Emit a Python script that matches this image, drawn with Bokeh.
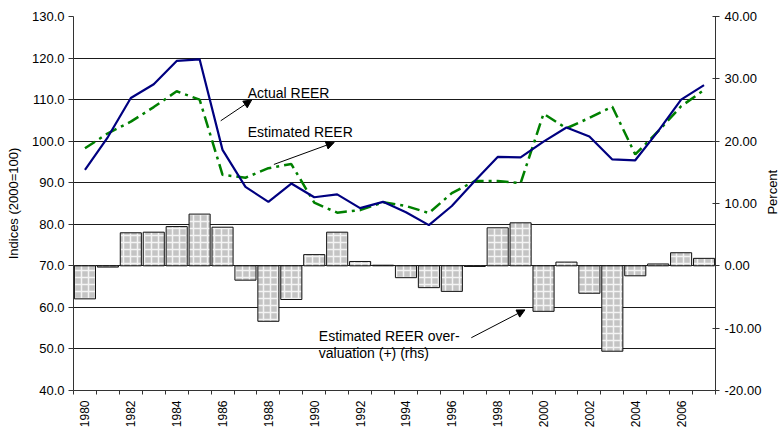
import math
from bokeh.plotting import figure
from bokeh.layouts import row
from bokeh.models import (Range1d, LinearAxis, FixedTicker, NumeralTickFormatter,
                          Label, Arrow, NormalHead, ColumnDataSource)
from bokeh.embed import file_html
from bokeh.resources import INLINE

# ---------------- data ----------------
years = [1980, 1981, 1982, 1983, 1984, 1985, 1986, 1987, 1988, 1989,
         1990, 1991, 1992, 1993, 1994, 1995, 1996, 1997, 1998, 1999,
         2000, 2001, 2002, 2003, 2004, 2005, 2006, 2007]
actual_reer = [93.1, 101.0, 110.4, 113.7, 119.3, 119.7, 97.9, 89.0, 85.4, 89.8,
               86.5, 87.2, 83.9, 85.4, 82.9, 79.8, 84.4, 90.4, 96.2, 96.1,
               99.9, 103.3, 101.1, 95.6, 95.4, 102.4, 110.0, 113.5]
estimated_reer = [98.3, 101.9, 104.7, 108.2, 112.0, 110.0, 91.9, 91.2, 93.5, 94.5,
                  85.2, 82.8, 83.4, 85.3, 84.4, 82.7, 87.5, 90.4, 90.4, 89.9,
                  106.6, 103.1, 105.6, 108.3, 96.8, 102.4, 108.4, 112.3]
overvaluation = [-5.3, -0.2, 5.3, 5.4, 6.3, 8.3, 6.2, -2.3, -8.9, -5.4,
                 1.8, 5.4, 0.7, 0.1, -1.9, -3.5, -4.1, -0.1, 6.1, 6.9,
                 -7.3, 0.6, -4.4, -13.7, -1.6, 0.3, 2.1, 1.2]
label_years = [1980, 1982, 1984, 1986, 1988, 1990, 1992, 1994, 1996, 1998,
               2000, 2002, 2004, 2006]
category_edges = [y - 0.5 for y in years] + [years[-1] + 0.5]
left_ticks = [40, 50, 60, 70, 80, 90, 100, 110, 120, 130]
right_ticks = [-20, -10, 0, 10, 20, 30, 40]

FONT = "Liberation Sans"

src = ColumnDataSource(dict(year=years, actual=actual_reer,
                            est=estimated_reer, gap=overvaluation))

p = figure(width=764, height=430, output_backend="svg", toolbar_location=None,
           x_range=Range1d(1979.5, 2007.5), y_range=Range1d(40, 130),
           min_border_left=73, min_border_right=46, min_border_top=16,
           min_border_bottom=39)
p.outline_line_color = None
p.background_fill_color = "white"
p.border_fill_color = "white"
p.extra_y_ranges = {"pct": Range1d(-20, 40)}

# grid
p.xgrid.visible = False
p.ygrid.ticker = FixedTicker(ticks=left_ticks)
p.ygrid.grid_line_color = "#1a1a1a"
p.ygrid.grid_line_width = 1

# x axis
xa = p.xaxis[0]
xa.ticker = FixedTicker(ticks=label_years, minor_ticks=category_edges)
xa.formatter = NumeralTickFormatter(format="0")
xa.major_tick_line_color = None
xa.major_tick_out = 0
xa.major_tick_in = 0
xa.minor_tick_out = 4
xa.minor_tick_in = 0
xa.minor_tick_line_color = "#333333"
xa.axis_line_color = "#333333"
xa.major_label_orientation = math.pi / 2
xa.major_label_standoff = 6
xa.major_label_text_font = FONT
xa.major_label_text_font_size = "12px"
xa.major_label_text_color = "black"

# left axis
ya = p.yaxis[0]
ya.ticker = FixedTicker(ticks=left_ticks)
ya.formatter = NumeralTickFormatter(format="0.0")
ya.minor_tick_line_color = None
ya.major_tick_out = 5
ya.major_tick_in = 0
ya.major_tick_line_color = "#333333"
ya.axis_line_color = "#333333"
ya.major_label_standoff = 4
ya.major_label_text_font = FONT
ya.major_label_text_font_size = "13px"
ya.major_label_text_color = "black"
ya.axis_label = "Indices (2000=100)"
ya.axis_label_text_font = FONT
ya.axis_label_text_font_size = "13px"
ya.axis_label_text_font_style = "normal"
ya.axis_label_text_color = "black"
ya.axis_label_standoff = 8

# right axis
ra = LinearAxis(y_range_name="pct", ticker=FixedTicker(ticks=right_ticks),
                formatter=NumeralTickFormatter(format="0.00"))
ra.minor_tick_line_color = None
ra.major_tick_out = 4
ra.major_tick_in = 3
ra.major_tick_line_color = "#333333"
ra.axis_line_color = "#333333"
ra.major_label_standoff = 5
ra.major_label_text_font = FONT
ra.major_label_text_font_size = "13px"
ra.major_label_text_color = "black"
p.add_layout(ra, "right")

# bars (rhs)
p.vbar(x="year", top="gap", bottom=0, width=0.92, source=src, y_range_name="pct",
       fill_color="#c4c4c4", line_color="#111111", line_width=1,
       hatch_pattern="+", hatch_color="#f4f4f4", hatch_scale=7, hatch_weight=1.5)

# lines
p.line("year", "est", source=src, line_color="#008000", line_width=2.5,
       line_dash="12 5 3 5")
p.line("year", "actual", source=src, line_color="#000080", line_width=2.2)

# annotations
def txt(x, y, s):
    lab = Label(x=x, y=y, text=s, text_font=FONT, text_font_size="14px",
                text_color="black", text_baseline="middle", text_align="left")
    p.add_layout(lab)

txt(1987.1, 111.6, "Actual REER")
txt(1987.1, 102.3, "Estimated REER")
txt(1990.2, 53.1, "Estimated REER over-")
txt(1990.2, 49.0, "valuation (+) (rhs)")

def arrow(x0, y0, x1, y1):
    p.add_layout(Arrow(end=NormalHead(size=8, fill_color="black", line_color="black",
                                      line_width=1),
                       x_start=x0, y_start=y0, x_end=x1, y_end=y1,
                       line_color="black", line_width=1))

arrow(1985.92, 104.9, 1987.27, 109.9)
arrow(1988.24, 94.4, 1990.87, 99.7)
arrow(1996.85, 52.7, 1999.19, 59.4)

# right-hand axis title ("Percent"), in a thin side panel
p2 = figure(width=16, height=430, output_backend="svg", toolbar_location=None,
            x_range=Range1d(0, 16), y_range=Range1d(0, 430),
            x_axis_type=None, y_axis_type=None,
            min_border=0, min_border_left=0, min_border_right=0,
            min_border_top=0, min_border_bottom=0)
p2.outline_line_color = None
p2.background_fill_color = "white"
p2.border_fill_color = "white"
p2.grid.visible = False
p2.add_layout(Label(x=8, y=228, text="Percent", angle=math.pi / 2,
                    text_font=FONT, text_font_size="13px", text_color="black",
                    text_align="center", text_baseline="middle"))

layout = row(p, p2, spacing=0)
open("out.html", "w").write(file_html(layout, INLINE))
